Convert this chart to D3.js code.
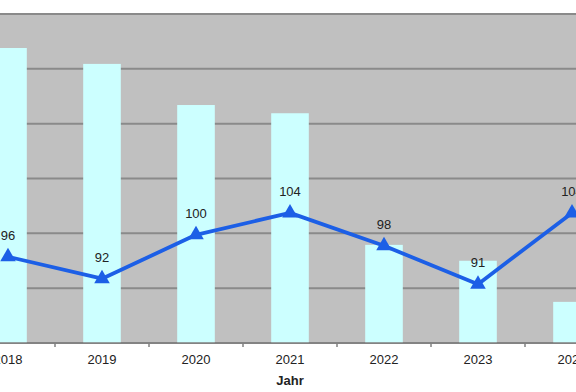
<!DOCTYPE html>
<html><head><meta charset="utf-8">
<script src="https://cdn.jsdelivr.net/npm/d3@7"></script>
<style>body{margin:0;background:#fff}svg{display:block}</style>
</head><body>
<svg id="c" width="576" height="392"></svg>
<script>
const years = ["2018","2019","2020","2021","2022","2023","2024"];
const barValues = [53.8, 50.9, 43.4, 41.9, 17.9, 15.0, 7.5];
const lineValues = [96, 92, 100, 104, 98, 91, 104];
const leftTicks = [0,10,20,30,40,50,60];
const xTitle = "Jahr";

(function(){
const svg = d3.select("#c");
const plotTop = 14, plotBottom = 343;
const x = d3.scaleBand().domain(years).range([-39, 619]).paddingInner(0).paddingOuter(0);
const yL = d3.scaleLinear().domain([0,60]).range([plotBottom, plotTop]);
const yR = d3.scaleLinear().domain([80,140]).range([plotBottom+1.5, plotTop+1.5]);

svg.append("rect").attr("x", x.range()[0]).attr("y", plotTop)
  .attr("width", x.range()[1]-x.range()[0]).attr("height", plotBottom-plotTop).attr("fill", "#c0c0c0");

svg.append("g").selectAll("line").data(leftTicks).join("line")
  .attr("x1", x.range()[0]).attr("x2", x.range()[1])
  .attr("y1", d => yL(d)).attr("y2", d => yL(d))
  .attr("stroke", "#8a8a8a").attr("stroke-width", 2);

const bw = x.bandwidth()*0.4;
svg.append("g").selectAll("rect").data(years).join("rect")
  .attr("x", d => x(d) + x.bandwidth()/2 - bw/2)
  .attr("y", (d,i) => yL(barValues[i]))
  .attr("width", bw)
  .attr("height", (d,i) => yL(0) - yL(barValues[i]))
  .attr("fill", "#ccffff");

svg.append("line").attr("x1", x.range()[0]).attr("x2", x.range()[1])
  .attr("y1", plotBottom).attr("y2", plotBottom).attr("stroke", "#808080").attr("stroke-width", 1.5);
svg.append("g").selectAll("line").data(years.slice(1)).join("line")
  .attr("x1", d => x(d)).attr("x2", d => x(d))
  .attr("y1", plotBottom).attr("y2", plotBottom+4).attr("stroke", "#808080").attr("stroke-width", 1.5);

const ax = d3.axisBottom(x).tickSize(0).tickPadding(0);
const gx = svg.append("g").attr("transform", `translate(0,${plotBottom})`).call(ax);
gx.select(".domain").remove();
gx.selectAll("text").attr("dy", null).attr("y", 21)
  .attr("font-family", "Liberation Sans, Arial, sans-serif").attr("font-size", 13).attr("fill", "#222");

svg.append("text").attr("x", x("2021")+x.bandwidth()/2).attr("y", 385)
  .attr("text-anchor","middle").attr("font-family","Liberation Sans, Arial, sans-serif")
  .attr("font-weight","bold").attr("font-size",13).attr("fill","#222").text(xTitle);

const cx = d => x(d) + x.bandwidth()/2;
const line = d3.line().x((d,i) => cx(years[i])).y(d => yR(d));
svg.append("path").datum(lineValues).attr("d", line)
  .attr("fill","none").attr("stroke","#1c5fe6").attr("stroke-width",3.8).attr("stroke-linejoin","round");

const tri = d3.symbol().type(d3.symbolTriangle).size(105);
svg.append("g").selectAll("path").data(lineValues).join("path")
  .attr("transform", (d,i) => `translate(${cx(years[i])},${yR(d)})`)
  .attr("d", tri).attr("fill","#1c5fe6");

svg.append("g").selectAll("text").data(lineValues).join("text")
  .attr("x", (d,i) => cx(years[i])).attr("y", d => yR(d) - 17)
  .attr("text-anchor","middle").attr("font-family","Liberation Sans, Arial, sans-serif")
  .attr("font-size",13).attr("fill","#222").text(d => d);
})();
</script>
</body></html>
